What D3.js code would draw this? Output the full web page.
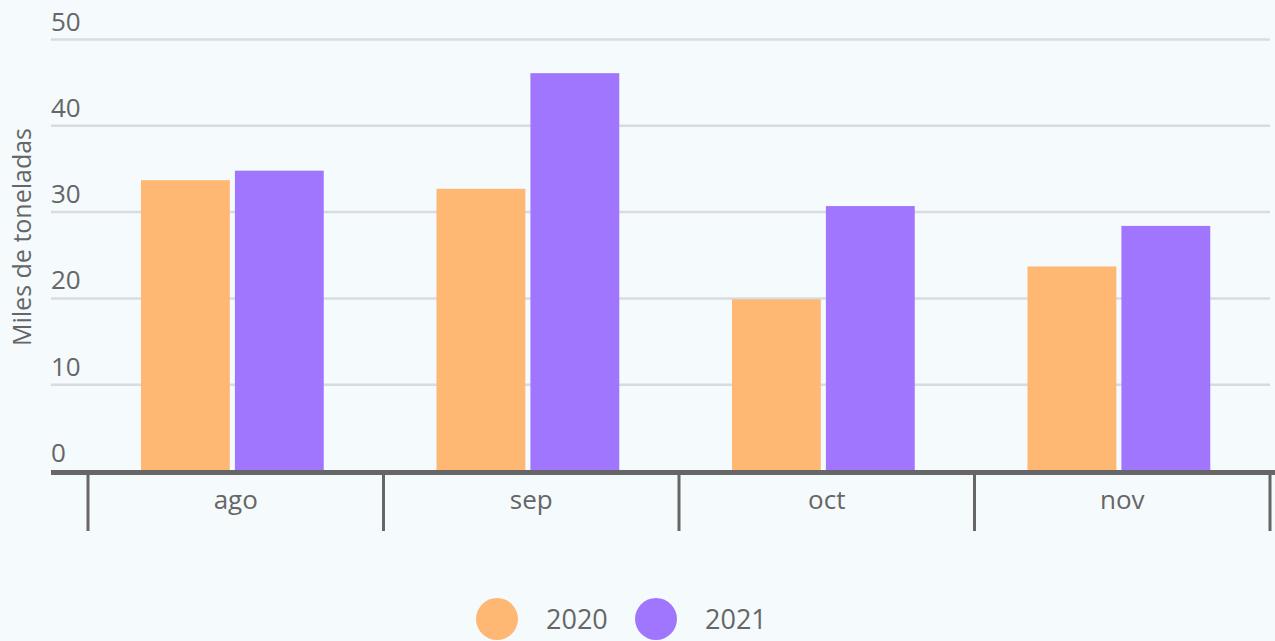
<!DOCTYPE html>
<html>
<head>
<meta charset="utf-8">
<script src="https://cdn.jsdelivr.net/npm/d3@7"></script>
<style>
  html, body { margin: 0; padding: 0; background: #f5fafd; }
  text { font-family: "Open Sans", "Noto Sans", sans-serif; fill: #666666; }
</style>
</head>
<body>
<div id="chart"></div>
<script>
// Data
const months = ["ago", "sep", "oct", "nov"];
const seriesNames = ["2020", "2021"];
const values2020 = [33.7, 32.7, 19.9, 23.7];
const values2021 = [34.8, 46.1, 30.7, 28.4];
const yTicks = [0, 10, 20, 30, 40, 50];
const colors = ["#ffb874", "#a176ff"];

const width = 1275;
const height = 641;

const svg = d3.select("#chart").append("svg")
    .attr("width", width)
    .attr("height", height);

// scales
const y = d3.scaleLinear().domain([0, 50]).range([471, 39.5]);
const x = d3.scaleBand().domain(months).range([88, 1270]).padding(0);
const xInner = d3.scaleBand().domain(seriesNames)
    .range([0, x.bandwidth()])
    .paddingInner(0.054)
    .paddingOuter(0.6)
    .align(0.47);

// gridlines + y tick labels
const grid = svg.append("g");
grid.selectAll("line")
    .data(yTicks.filter(d => d > 0))
    .enter().append("line")
    .attr("x1", 51).attr("x2", 1270)
    .attr("y1", d => y(d)).attr("y2", d => y(d))
    .attr("stroke", "#d9dcde")
    .attr("stroke-width", 2.5);

grid.selectAll("text")
    .data(yTicks)
    .enter().append("text")
    .attr("x", 51)
    .attr("y", d => y(d) - 9)
    .attr("font-size", 26)
    .text(d => d);

// y axis title
svg.append("text")
    .attr("transform", "translate(31,237) rotate(-90)")
    .attr("text-anchor", "middle")
    .attr("font-size", 25)
    .text("Miles de toneladas");

// bars
const table = months.map((m, i) => ({ month: m, vals: [values2020[i], values2021[i]] }));
const groups = svg.append("g").selectAll("g")
    .data(table)
    .enter().append("g")
    .attr("transform", d => `translate(${x(d.month)},0)`);

groups.selectAll("rect")
    .data(d => d.vals.map((v, j) => ({ key: seriesNames[j], v: v, c: colors[j] })))
    .enter().append("rect")
    .attr("x", d => xInner(d.key))
    .attr("width", xInner.bandwidth())
    .attr("y", d => y(d.v))
    .attr("height", d => y(0) - y(d.v))
    .attr("fill", d => d.c);

// x axis baseline
svg.append("line")
    .attr("x1", 51).attr("x2", 1275)
    .attr("y1", 472.5).attr("y2", 472.5)
    .attr("stroke", "#666666")
    .attr("stroke-width", 5);

// band separator ticks
const edges = months.map(m => x(m)).concat([x.range()[1]]);
svg.append("g").selectAll("line")
    .data(edges)
    .enter().append("line")
    .attr("x1", d => d).attr("x2", d => d)
    .attr("y1", 472).attr("y2", 531)
    .attr("stroke", "#666666")
    .attr("stroke-width", 3);

// month labels
svg.append("g").selectAll("text")
    .data(months)
    .enter().append("text")
    .attr("x", d => x(d) + x.bandwidth() / 2)
    .attr("y", 509)
    .attr("text-anchor", "middle")
    .attr("font-size", 26)
    .text(d => d);

// legend
const legendX = [497, 656];
const legend = svg.append("g").selectAll("g")
    .data(seriesNames)
    .enter().append("g")
    .attr("transform", (d, i) => `translate(${legendX[i]},619)`);

legend.append("circle")
    .attr("r", 21)
    .attr("fill", (d, i) => colors[i]);

legend.append("text")
    .attr("x", 49)
    .attr("y", 10)
    .attr("font-size", 27)
    .text(d => d);
</script>
</body>
</html>
